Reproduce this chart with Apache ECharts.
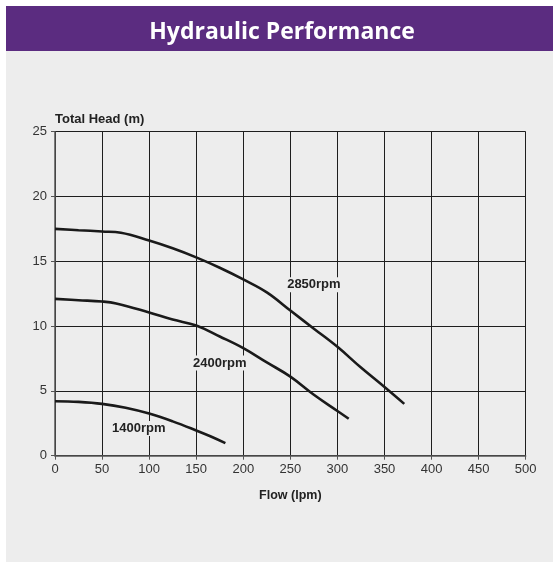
<!DOCTYPE html>
<html>
<head>
<meta charset="utf-8">
<script src="https://cdn.jsdelivr.net/npm/echarts@6/dist/echarts.min.js"></script>
<style>
html,body{margin:0;padding:0;background:#fff;}
#c{width:553px;height:562px;}
</style>
</head>
<body>
<div id="c"></div>
<script>
const xTicks = [0, 50, 100, 150, 200, 250, 300, 350, 400, 450, 500];
const yTicks = [0, 5, 10, 15, 20, 25];
const seriesNames = ['2850rpm', '2400rpm', '1400rpm'];
const curve2850 = [[0,17.5],[25,17.4],[50,17.3],[70,17.2],[100,16.6],[125,16.0],[150,15.3],[175,14.5],[200,13.6],[225,12.6],[250,11.2],[275,9.8],[300,8.4],[325,6.8],[350,5.3],[371,4.0]];
const curve2400 = [[0,12.1],[25,12.0],[50,11.9],[65,11.75],[100,11.05],[125,10.5],[150,10.05],[175,9.2],[200,8.3],[225,7.2],[250,6.1],[275,4.7],[300,3.45],[312,2.85]];
const curve1400 = [[0,4.2],[25,4.15],[50,4.0],[75,3.7],[100,3.25],[125,2.65],[150,1.95],[165,1.5],[181,0.97]];
const labelSpots = [[275,13.2],[175,7.15],[89,2.1]];

const chart = echarts.init(document.getElementById('c'), null, {renderer:'canvas'});
const font = '"Liberation Sans", Arial, sans-serif';
const curves = [curve2850, curve2400, curve1400];
chart.setOption({
  animation:false,
  backgroundColor:'#ffffff',
  graphic:[
    {type:'rect', z:-10, shape:{x:6,y:6,width:547,height:45}, style:{fill:'#5b2c80'}},
    {type:'rect', z:-10, shape:{x:6,y:51,width:547,height:511}, style:{fill:'#ededed'}},
    {type:'text', z:10, x:282, y:32, style:{text:'Hydraulic Performance', fill:'#ffffff',
      font:'bold 23px "Open Sans", sans-serif', textAlign:'center', textVerticalAlign:'middle'}}
  ],
  grid:{left:55, right:27.3, top:131.7, bottom:106.3, show:false},
  xAxis:{
    type:'value', min:0, max:500, interval:50,
    name:'Flow (lpm)', nameLocation:'middle', nameGap:33,
    nameTextStyle:{color:'#222', fontFamily:font, fontWeight:'bold', fontSize:12.5},
    axisLine:{show:true, lineStyle:{color:'#555', width:1.5}},
    axisTick:{show:true, length:4, lineStyle:{color:'#555'}},
    axisLabel:{color:'#333', fontFamily:font, fontSize:13, margin:7, formatter:v=>String(v)},
    splitLine:{show:true, lineStyle:{color:'#1e1e1e', width:1}}
  },
  yAxis:{
    type:'value', min:0, max:25, interval:5,
    name:'Total Head (m)', nameLocation:'end', nameGap:6,
    nameTextStyle:{color:'#222', fontFamily:font, fontWeight:'bold', fontSize:13, align:'left'},
    axisLine:{show:true, lineStyle:{color:'#555', width:1.5}},
    axisTick:{show:true, length:4, lineStyle:{color:'#555'}},
    axisLabel:{color:'#333', fontFamily:font, fontSize:13, margin:8, formatter:v=>String(v)},
    splitLine:{show:true, lineStyle:{color:'#1e1e1e', width:1}}
  },
  series: curves.map((d,i)=>({
    name:seriesNames[i], type:'line', data:d, smooth:0.4, symbol:'none',
    lineStyle:{color:'#1a1a1a', width:2.6},
    markPoint:{
      symbol:'rect', symbolSize:1, itemStyle:{color:'rgba(0,0,0,0)'},
      data:[{coord:labelSpots[i], value:seriesNames[i]}],
      label:{show:true, position:'inside', formatter:seriesNames[i], color:'#222', fontFamily:font, fontWeight:'bold', fontSize:13,
        backgroundColor:'#ededed', padding:[1,1]}
    }
  }))
});
</script>
</body>
</html>
